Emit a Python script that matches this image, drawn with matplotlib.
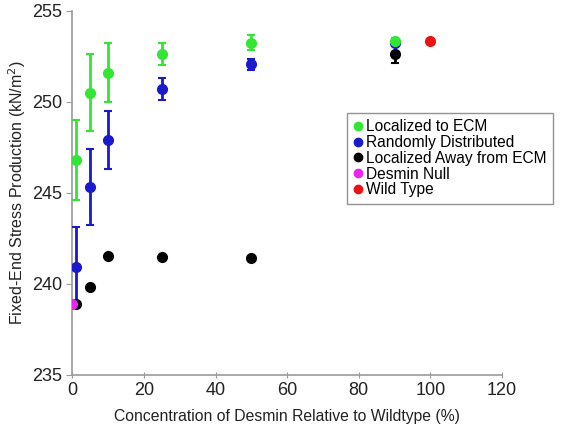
import matplotlib
matplotlib.use("Agg")
import matplotlib.pyplot as plt
from matplotlib.lines import Line2D

plt.rcParams["font.family"] = ["Liberation Sans", "DejaVu Sans"]

# Concentration of desmin (%) and fixed-end stress (kN/m^2)
conc = [1, 5, 10, 25, 50, 90]

ecm_stress = [246.8, 250.5, 251.6, 252.6, 253.25, 253.35]
ecm_err = [2.2, 2.1, 1.6, 0.6, 0.4, 0.15]

random_stress = [240.9, 245.3, 247.9, 250.7, 252.05, 253.2]
random_err = [2.2, 2.1, 1.6, 0.6, 0.3, 0.15]

away_stress = [238.9, 239.8, 241.5, 241.45, 241.4, 252.6]
away_err = [0.0, 0.0, 0.0, 0.0, 0.0, 0.45]

null_conc = [0]
null_stress = [238.9]

wt_conc = [100]
wt_stress = [253.35]

labels = ["Localized to ECM", "Randomly Distributed", "Localized Away from ECM",
          "Desmin Null", "Wild Type"]
colors = ["#33e633", "#1a1acc", "#000000", "#ee22ee", "#ee1111"]


def main():
    fig = plt.figure(figsize=(5.62, 4.30), dpi=100)
    ax = fig.add_axes([0.129, 0.129, 0.764, 0.846])

    series = [
        (conc, away_stress, away_err, 2),
        (conc, random_stress, random_err, 1),
        (conc, ecm_stress, ecm_err, 0),
    ]
    for x, y, e, idx in series:
        ax.errorbar(x, y, yerr=e, fmt="o", color=colors[idx], ms=7,
                    elinewidth=2, capsize=3, capthick=1.5, zorder=3)
    ax.plot(null_conc, null_stress, "o", color=colors[3], ms=7, zorder=4)
    ax.plot(wt_conc, wt_stress, "o", color=colors[4], ms=7, zorder=4)

    ax.set_xlim(0, 120)
    ax.set_ylim(235, 255)
    ax.set_xticks(range(0, 121, 20))
    ax.set_yticks(range(235, 256, 5))
    ax.spines["top"].set_visible(False)
    ax.spines["right"].set_visible(False)
    for s in ["left", "bottom"]:
        ax.spines[s].set_color("#999999")
        ax.spines[s].set_linewidth(1.2)
    ax.tick_params(axis="both", labelsize=13, color="#999999", length=4,
                   direction="inout", labelcolor="#222222")
    ax.tick_params(axis="y", direction="out")

    ax.set_xlabel("Concentration of Desmin Relative to Wildtype (%)",
                  fontsize=11.3, color="#222222", labelpad=7)
    ax.set_ylabel("Fixed-End Stress Production (kN/m$^2$)",
                  fontsize=11.5, color="#222222", labelpad=3)

    proxies = [Line2D([], [], ls="none", marker="o", color=c, ms=6)
               for c in colors]
    leg = fig.legend(proxies, labels,
                     loc="upper left", bbox_to_anchor=(0.617, 0.737),
                     fontsize=11.2, frameon=True, fancybox=False,
                     handlelength=0.6, handletextpad=0.25, borderpad=0.4,
                     labelspacing=0.05, borderaxespad=0)
    leg.get_frame().set_edgecolor("#777777")
    leg.get_frame().set_linewidth(1.0)

    fig.savefig("out.png", dpi=100)


if __name__ == "__main__":
    main()
